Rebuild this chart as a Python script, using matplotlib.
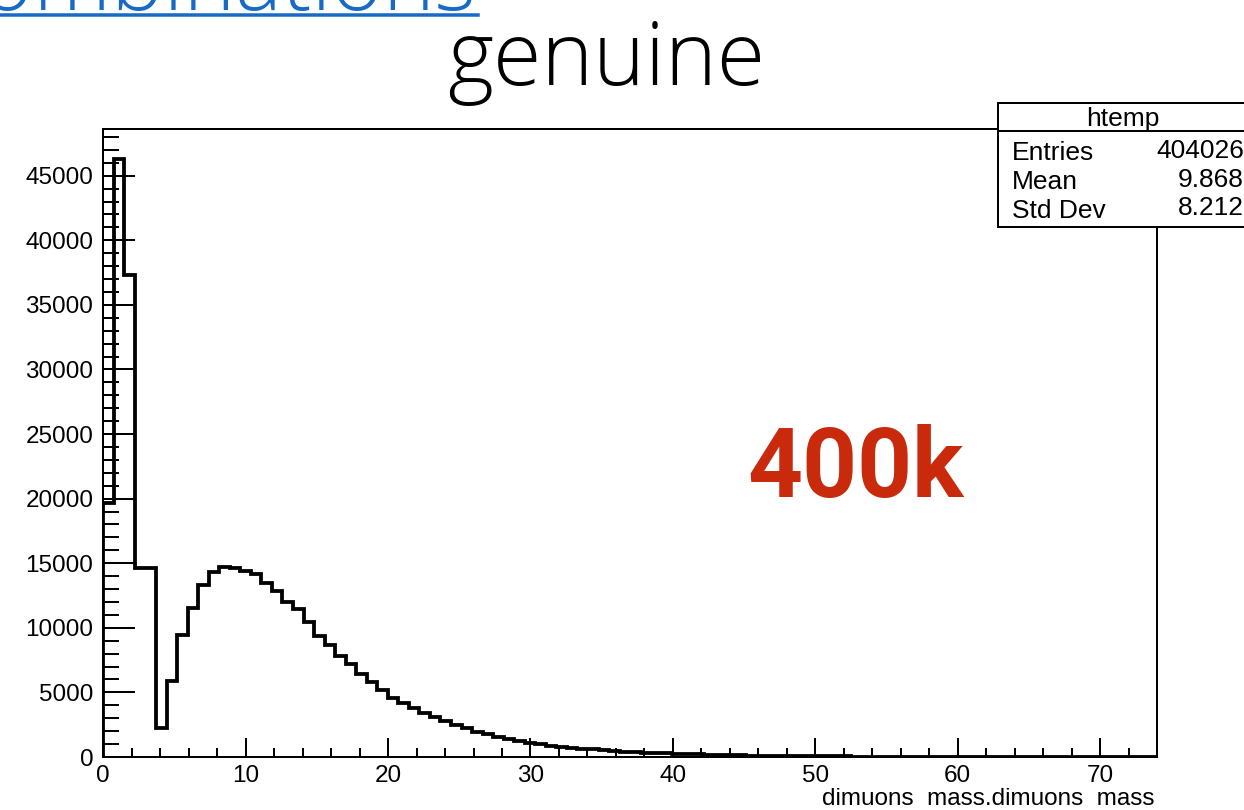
import matplotlib
matplotlib.use("Agg")
import matplotlib.pyplot as plt
import numpy as np
from matplotlib.patches import Rectangle
from matplotlib.lines import Line2D
from matplotlib.ticker import MultipleLocator

plt.rcParams["font.family"] = ["Liberation Sans", "DejaVu Sans"]

# ---- histogram definition -------------------------------------------------
x_min, x_max, n_bins = 0.0, 74.0, 100

counts = [
    19650, 46300, 37350, 14630, 14630, 2220, 5890, 9470, 11550, 13320,
    14300, 14680, 14610, 14430, 14170, 13450, 12830, 11980, 11470, 10440,
    9340, 8700, 7830, 7180, 6460, 5810, 5220, 4600, 4190, 3800,
    3420, 3110, 2780, 2470, 2210, 1950, 1750, 1570, 1390, 1230,
    1080, 980, 870, 800, 720, 650, 590, 530, 475, 425,
    385, 345, 310, 280, 250, 225, 200, 180, 160, 143,
    128, 114, 102, 91, 81, 72, 64, 57, 51, 45,
    40, 36, 32, 28, 25, 22, 20, 17, 15, 13,
    12, 10, 9, 8, 7, 6, 5, 5, 4, 4,
    3, 3, 2, 2, 2, 1, 1, 1, 1, 0,
]

hist_name = "htemp"
stats_labels = ["Entries", "Mean", "Std Dev"]
stats_values = ["404026", "9.868", "8.212"]
x_title = "dimuons  mass.dimuons  mass"
slide_heading = "Combinations"
slide_title = "genuine"
callout = "400k"

# ---- figure in pixel units ------------------------------------------------
W, H, DPI = 1244, 810, 100
PT = 72.0 / DPI  # points per pixel

fig = plt.figure(figsize=(W / DPI, H / DPI), dpi=DPI)
fig.patch.set_facecolor("white")


def fx(px):
    return px / W


def fy(py):
    return 1.0 - py / H


ax_l, ax_r, ax_t, ax_b = 103.3, 1157, 129, 757
ax = fig.add_axes([fx(ax_l), fy(ax_b), fx(ax_r) - fx(ax_l), fy(ax_t) - fy(ax_b)])

edges = np.linspace(x_min, x_max, n_bins + 1)
ax.stairs(counts, edges, color="black", linewidth=3.8 * PT, baseline=0, zorder=3)

ax.set_xlim(x_min, x_max)
ax.set_ylim(0, 1.05 * max(counts))

for sp in ax.spines.values():
    sp.set_linewidth(2.0 * PT)
    sp.set_color("black")

ax.xaxis.set_major_locator(MultipleLocator(10))
ax.xaxis.set_minor_locator(MultipleLocator(2))
ax.yaxis.set_major_locator(MultipleLocator(5000))
ax.yaxis.set_minor_locator(MultipleLocator(1000))
ax.ticklabel_format(style="plain", useOffset=False)

ax.tick_params(axis="y", which="major", direction="in", length=31.6 * PT,
               width=2.0 * PT, labelsize=17.5, pad=10 * PT, right=False)
ax.tick_params(axis="y", which="minor", direction="in", length=15.8 * PT,
               width=2.0 * PT, right=False)
ax.tick_params(axis="x", which="major", direction="in", length=18.8 * PT,
               width=2.0 * PT, labelsize=17.5, pad=8 * PT, top=False)
ax.tick_params(axis="x", which="minor", direction="in", length=9.4 * PT,
               width=2.0 * PT, top=False)

fig.text(fx(1155), fy(799), x_title, ha="right", va="center", fontsize=17.5)

# ---- statistics box -------------------------------------------------------
box_l, box_r, box_t, box_b, box_sep = 998, 1262, 103, 227, 131
fig.add_artist(Rectangle((fx(box_l), fy(box_b)), fx(box_r) - fx(box_l),
                         fy(box_t) - fy(box_b), transform=fig.transFigure,
                         facecolor="white", edgecolor="black",
                         linewidth=2.0 * PT, zorder=10))
fig.add_artist(Line2D([fx(box_l), fx(box_r)], [fy(box_sep), fy(box_sep)],
                      transform=fig.transFigure, color="black",
                      linewidth=2.0 * PT, zorder=11))
fig.text(fx(1123), fy(126), hist_name, ha="center", va="baseline",
         fontsize=19, zorder=12)
label_base = [160, 189, 218]
value_base = [158, 187, 215]
for lab, val, yl, yv in zip(stats_labels, stats_values, label_base, value_base):
    fig.text(fx(1012), fy(yl), lab, ha="left", va="baseline", fontsize=19, zorder=12)
    fig.text(fx(1244), fy(yv), val, ha="right", va="baseline", fontsize=19, zorder=12)

# ---- slide texts ----------------------------------------------------------
title_font = ["Open Sans", "Lato", "DejaVu Sans"]
fig.text(fx(476), fy(10), slide_heading, ha="right", va="baseline",
         fontsize=88 * PT, color="#176bc6", family=title_font,
         fontweight="light")
fig.add_artist(Line2D([fx(0), fx(478)], [fy(15), fy(15)], transform=fig.transFigure,
                      color="#176bc6", linewidth=3.5 * PT))
fig.text(fx(606), fy(85), slide_title, ha="center", va="baseline",
         fontsize=88 * PT, color="black", family=title_font,
         fontweight="light")
fig.text(fx(856), fy(497), callout, ha="center", va="baseline",
         fontsize=96 * PT, color="#c92a0c", family=["Roboto", "DejaVu Sans"],
         fontweight="bold")

fig.savefig("out.png", dpi=DPI, facecolor="white")
